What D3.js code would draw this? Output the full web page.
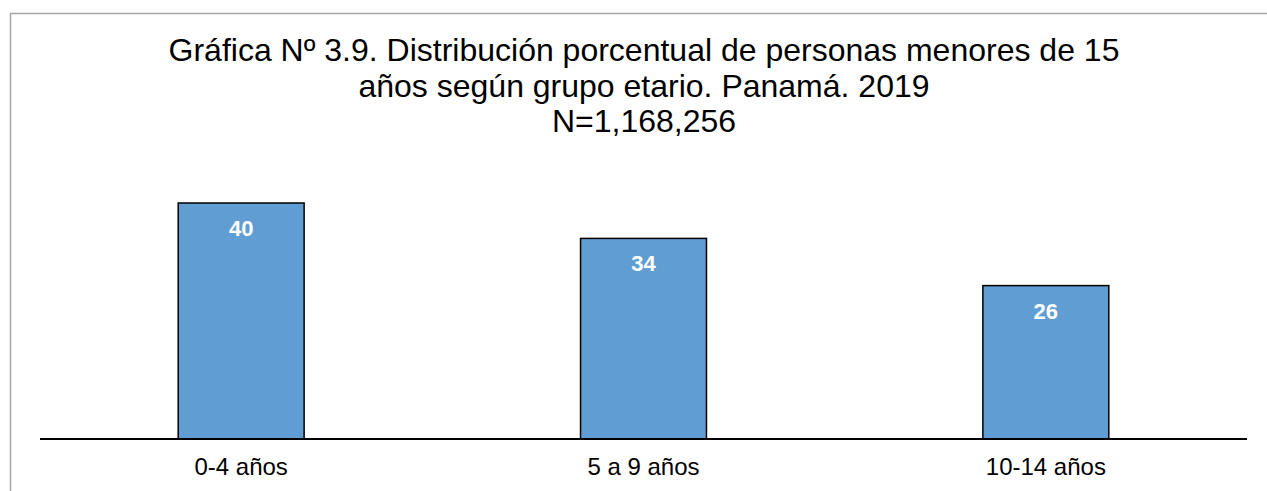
<!DOCTYPE html>
<meta charset="utf-8">
<script src="https://d3js.org/d3.v7.min.js"></script>
<style>
  body { margin: 0; background: #fff; }
  text { font-family: "Liberation Sans", Arial, sans-serif; }
</style>
<div id="chart"></div>
<script>
// data
var categories = ["0-4 años", "5 a 9 años", "10-14 años"];
var values = [40, 34, 26];
var titleLines = [
  "Gráfica Nº 3.9. Distribución porcentual de personas menores de 15",
  "años según grupo etario. Panamá. 2019",
  "N=1,168,256"
];

var W = 1267, H = 491;
var svg = d3.select("#chart").append("svg")
  .attr("width", W).attr("height", H);

// outer frame (top and left edges visible)
svg.append("path")
  .attr("d", "M10.5," + H + "V13.5H" + W)
  .attr("fill", "none")
  .attr("stroke", "#a6a6a6")
  .attr("stroke-width", 1.5);

// title
svg.append("g").selectAll("text")
  .data(titleLines)
  .enter().append("text")
    .attr("x", 644)
    .attr("y", function(d, i) { return 61 + i * 35.5; })
    .attr("text-anchor", "middle")
    .attr("font-size", 32)
    .attr("fill", "#000")
    .text(function(d) { return d; });

var x = d3.scaleBand()
  .domain(categories)
  .range([40, 1247])
  .paddingInner(0.687)
  .paddingOuter(0.3435);

var y = d3.scaleLinear()
  .domain([0, 40])
  .range([439, 203]);

// bars
svg.append("g").selectAll("rect")
  .data(values)
  .enter().append("rect")
    .attr("x", function(d, i) { return x(categories[i]); })
    .attr("y", function(d) { return y(d); })
    .attr("width", x.bandwidth())
    .attr("height", function(d) { return y(0) - y(d); })
    .attr("fill", "#5f9dd3")
    .attr("stroke", "#000")
    .attr("stroke-width", 1.5);

// value labels
svg.append("g").selectAll("text")
  .data(values)
  .enter().append("text")
    .attr("x", function(d, i) { return x(categories[i]) + x.bandwidth() / 2; })
    .attr("y", function(d) { return y(d) + 33; })
    .attr("text-anchor", "middle")
    .attr("font-size", 22)
    .attr("font-weight", "bold")
    .attr("fill", "#fff")
    .text(function(d) { return d; });

// x axis
var xAxis = svg.append("g")
  .attr("transform", "translate(0," + y(0) + ")")
  .call(d3.axisBottom(x).tickSize(0).tickPadding(19));
xAxis.select(".domain").attr("stroke", "#000").attr("stroke-width", 2)
  .attr("d", "M40,0H1247");
xAxis.selectAll("text")
  .attr("font-size", 24)
  .attr("fill", "#000")
  .attr("font-family", "Liberation Sans, Arial, sans-serif");
</script>
